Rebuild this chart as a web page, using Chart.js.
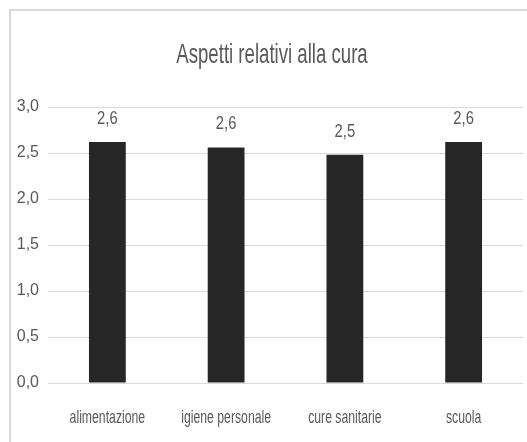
<!DOCTYPE html>
<html>
<head>
<meta charset="utf-8">
<script src="https://cdn.jsdelivr.net/npm/chart.js@4"></script>
<style>
  html, body { margin: 0; padding: 0; background: #fff; }
  #wrap { width: 527px; height: 442px; }
</style>
</head>
<body>
<div id="wrap"><canvas id="chart" width="527" height="442"></canvas></div>
<script>
// ---- data ----
const title = 'Aspetti relativi alla cura';
const categories = ['alimentazione', 'igiene personale', 'cure sanitarie', 'scuola'];
const values = [2.62, 2.56, 2.48, 2.62];
const yTicks = [0, 0.5, 1, 1.5, 2, 2.5, 3];

const FONT = "'Liberation Sans', Arial, sans-serif";
const TEXT = '#595959';
const fmt = v => Number(v).toFixed(1).replace('.', ',');

// the source uses a tall, narrow face: draw text squeezed horizontally
function narrowText(c, txt, x, y, size, sx) {
  c.save();
  c.font = size + 'px ' + FONT;
  c.fillStyle = TEXT;
  c.textAlign = 'center';
  c.textBaseline = 'alphabetic';
  c.translate(x, y);
  c.scale(sx, 1);
  c.fillText(txt, 0, 0);
  c.restore();
}

// white background + frame lines (top + left, the picture is cropped on the other sides)
const frame = {
  id: 'frame',
  beforeDraw(chart) {
    const c = chart.ctx;
    c.save();
    c.fillStyle = '#fff';
    c.fillRect(0, 0, chart.width, chart.height);
    c.strokeStyle = '#d9d9d9';
    c.lineWidth = 2;
    c.beginPath();
    c.moveTo(10, chart.height);
    c.lineTo(10, 10);
    c.lineTo(chart.width, 10);
    c.stroke();
    c.restore();
  }
};

// title, category labels and value labels
const texts = {
  id: 'texts',
  afterDatasetsDraw(chart) {
    const c = chart.ctx;
    const area = chart.chartArea;
    const xs = chart.scales.x;
    narrowText(c, title, 272, 63, 28, 0.665);
    categories.forEach((cat, i) => {
      narrowText(c, cat, xs.getPixelForTick(i), area.bottom + 40, 18, 0.68);
    });
    chart.getDatasetMeta(0).data.forEach((bar, i) => {
      narrowText(c, fmt(values[i]), bar.x, bar.y - 18, 18, 0.82);
    });
  }
};

new Chart(document.getElementById('chart'), {
  type: 'bar',
  data: {
    labels: categories,
    datasets: [{
      data: values,
      backgroundColor: '#262626',
      borderWidth: 0,
      categoryPercentage: 1,
      barPercentage: 0.31
    }]
  },
  options: {
    responsive: false,
    animation: false,
    layout: { padding: { top: 107, right: 4, bottom: 59, left: 0 } },
    plugins: {
      legend: { display: false },
      tooltip: { enabled: false },
      title: { display: false }
    },
    scales: {
      x: {
        grid: { display: false, drawTicks: false },
        border: { display: false },
        ticks: { display: false }
      },
      y: {
        min: 0,
        max: 3,
        afterFit: s => { s.width = 48; },
        afterBuildTicks: s => { s.ticks = yTicks.map(v => ({ value: v })); },
        grid: { color: '#d9d9d9', lineWidth: 1, drawTicks: false },
        border: { display: false },
        ticks: { color: TEXT, font: { family: FONT, size: 16 }, padding: 9, callback: v => fmt(v) }
      }
    }
  },
  plugins: [frame, texts]
});
</script>
</body>
</html>
